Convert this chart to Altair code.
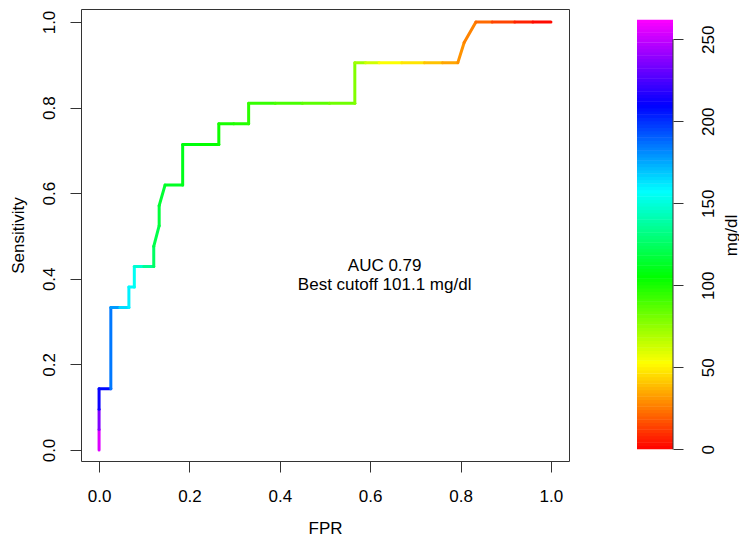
import altair as alt
import pandas as pd
import numpy as np

# ROC curve points (FPR, sensitivity) and the cutoff (mg/dl) at each point
fpr = [0.0, 0.0, 0.0, 0.0, 0.026, 0.026, 0.046, 0.066, 0.066, 0.078, 0.078, 0.099,
       0.121, 0.121, 0.133, 0.133, 0.146, 0.185, 0.185, 0.224, 0.265, 0.265, 0.298,
       0.331, 0.331, 0.39, 0.45, 0.51, 0.566, 0.566, 0.59, 0.62, 0.67, 0.72, 0.76,
       0.794, 0.808, 0.834, 0.87, 0.92, 0.96, 1.0]
tpr = [0.0, 0.048, 0.095, 0.143, 0.143, 0.333, 0.333, 0.333, 0.381, 0.381, 0.429, 0.429,
       0.429, 0.476, 0.524, 0.571, 0.619, 0.619, 0.714, 0.714, 0.714, 0.762, 0.762,
       0.762, 0.810, 0.810, 0.810, 0.810, 0.810, 0.905, 0.905, 0.905, 0.905, 0.905, 0.905,
       0.905, 0.952, 1.0, 1.0, 1.0, 1.0, 1.0]
cutoff = [255, 236, 212, 208, 185, 178, 165, 160, 158, 155, 148, 135,
          125, 120, 117, 115, 112, 110, 107, 104, 102, 100, 98,
          96, 94, 90, 86, 82, 78, 72, 62, 53, 47, 40, 34,
          30, 27, 22, 14, 7, 2, 0]

x_ticks = [0.0, 0.2, 0.4, 0.6, 0.8, 1.0]
y_ticks = [0.0, 0.2, 0.4, 0.6, 0.8, 1.0]
cbar_ticks = [0, 50, 100, 150, 200, 250]
cbar_max = 262

ann_lines = ["AUC 0.79", "Best cutoff 101.1 mg/dl"]
ann_x = [0.632, 0.632]
ann_y = [0.431, 0.385]

FONT = "Liberation Sans"
FS = 17

color_domain = [0, 52.4, 104.8, 157.2, 209.6, 262]
color_range = ["#FF0000", "#FFFF00", "#00FF00", "#00FFFF", "#0000FF", "#FF00FF"]
color_scale = alt.Scale(domain=color_domain, range=color_range, interpolate="rgb", clamp=True)

seg = pd.DataFrame({"x": fpr[:-1], "y": tpr[:-1], "x2": fpr[1:], "y2": tpr[1:], "c": cutoff[:-1]})
ann = pd.DataFrame({"x": ann_x, "y": ann_y, "t": ann_lines})

xs = alt.Scale(domain=[-0.04, 1.04], nice=False, zero=False)
ys = alt.Scale(domain=[-0.0257, 1.0304], nice=False, zero=False)

x_axis = alt.Axis(values=x_ticks, format=".1f", title="FPR", labelPadding=16,
                  titlePadding=16, labelFlush=False, labelOverlap=False)
y_axis = alt.Axis(values=y_ticks, format=".1f", title="Sensitivity", labelAngle=270,
                  labelAlign="center", labelBaseline="middle", labelPadding=21,
                  titleAngle=270, titleBaseline="bottom", titlePadding=13,
                  labelFlush=False, labelOverlap=False)

curve = alt.Chart(seg).mark_rule(strokeWidth=3, strokeCap="round").encode(
    x=alt.X("x:Q", scale=xs, axis=x_axis),
    y=alt.Y("y:Q", scale=ys, axis=y_axis),
    x2="x2:Q",
    y2="y2:Q",
    color=alt.Color("c:Q", scale=color_scale, legend=None),
)

text = alt.Chart(ann).mark_text(font=FONT, fontSize=FS, align="center",
                                baseline="middle", color="black").encode(
    x=alt.X("x:Q", scale=xs, axis=x_axis),
    y=alt.Y("y:Q", scale=ys, axis=y_axis),
    text="t:N",
)

main = alt.layer(curve, text).properties(width=488, height=452)

# colour bar
vals = np.arange(0, cbar_max, 2)
cb = pd.DataFrame({"v": vals, "v2": np.minimum(vals + 2.3, cbar_max), "vm": vals + 1})
cb_scale = alt.Scale(domain=[-7.13, 268.5], nice=False, zero=False)
cb_axis = alt.Axis(orient="right", values=cbar_ticks, title="mg/dl", labelAngle=270,
                   labelAlign="center", labelBaseline="middle", labelPadding=25,
                   tickSize=10, titleAngle=270, titleBaseline="top", titlePadding=7,
                   labelFlush=False, labelOverlap=False)

bar = alt.Chart(cb).mark_rect().encode(
    x=alt.value(0), x2=alt.value(36),
    y=alt.Y("v:Q", scale=cb_scale, axis=cb_axis),
    y2="v2:Q",
    color=alt.Color("vm:Q", scale=color_scale, legend=None),
)
bar_line = alt.Chart(pd.DataFrame({"v": [0], "v2": [250]})).mark_rule(
    color="#333333", strokeWidth=1).encode(
    x=alt.value(36),
    y=alt.Y("v:Q", scale=cb_scale, axis=cb_axis),
    y2="v2:Q",
)
cbar = alt.layer(bar, bar_line).properties(
    width=36, height=452, view=alt.ViewBackground(strokeWidth=0))

chart = alt.hconcat(main, cbar, spacing=67, padding=0).configure_axis(
    labelFont=FONT, titleFont=FONT, labelFontSize=FS, titleFontSize=FS,
    labelColor="black", titleColor="black", titleFontWeight="normal",
    tickColor="#333333", tickSize=11, domain=False, grid=False,
).configure_view(stroke="#333333", strokeWidth=1)

chart.save("out.html", embed_options={"renderer": "svg", "actions": False})
